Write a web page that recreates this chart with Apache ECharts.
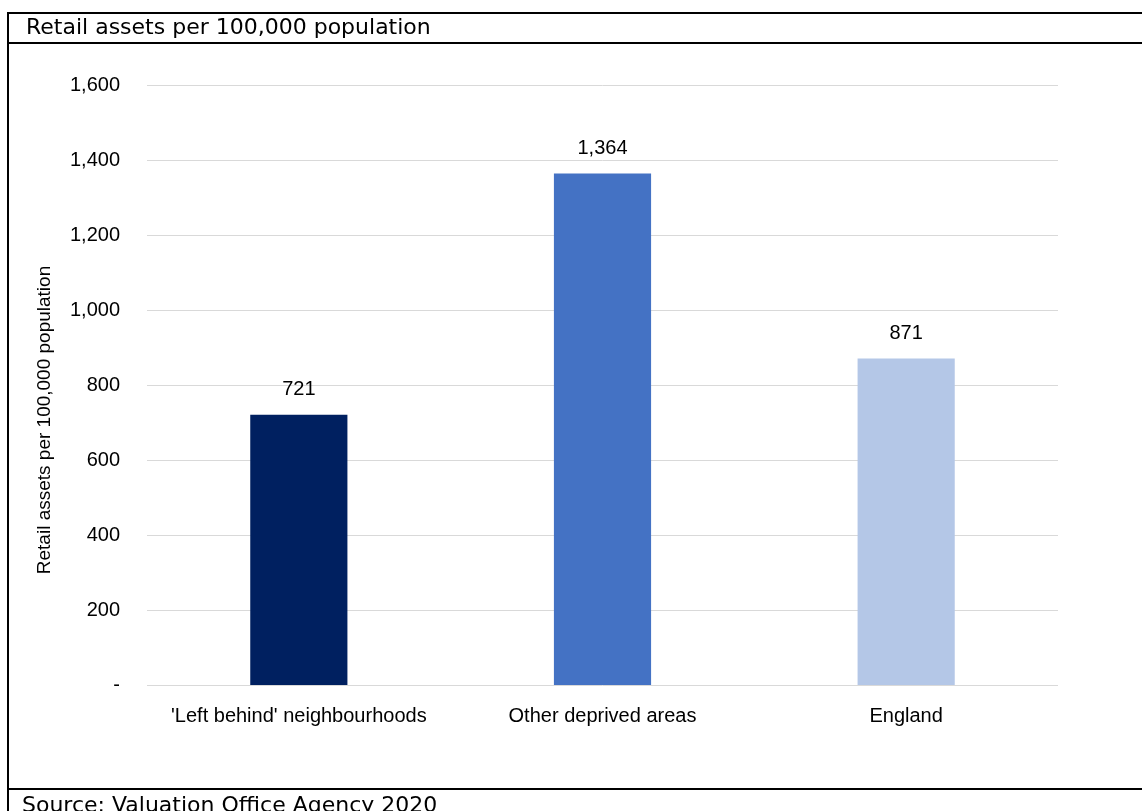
<!DOCTYPE html>
<html>
<head>
<meta charset="utf-8">
<script src="https://cdn.jsdelivr.net/npm/echarts@6/dist/echarts.min.js"></script>
<style>
html,body{margin:0;padding:0;background:#fff;}
#chart{width:1142px;height:811px;}
</style>
</head>
<body>
<div id="chart"></div>
<script>
const categories = ["'Left behind' neighbourhoods", "Other deprived areas", "England"];
const values = [721, 1364, 871];
const barColors = ['#002060', '#4472C4', '#B4C7E7'];
const yTicks = [0, 200, 400, 600, 800, 1000, 1200, 1400, 1600];
const titleText = 'Retail assets per 100,000 population';
const axisTitle = 'Retail assets per 100,000 population';
const sourceText = 'Source: Valuation Office Agency 2020';

function fmt(v) {
  if (v === 0) return '-';
  return String(v).replace(/\B(?=(\d{3})+(?!\d))/g, ',');
}

const chart = echarts.init(document.getElementById('chart'), null, {renderer: 'canvas'});
const labelFont = '"Liberation Sans", Arial, sans-serif';
chart.setOption({
  animation: false,
  backgroundColor: '#fff',
  grid: {left: 147, right: 84, top: 85, bottom: 126},
  xAxis: {
    type: 'category',
    data: categories,
    axisLine: {show: false},
    axisTick: {show: false},
    axisLabel: {color: '#000', fontSize: 20, fontFamily: labelFont, margin: 21, interval: 0}
  },
  yAxis: {
    type: 'value',
    min: yTicks[0],
    max: yTicks[yTicks.length - 1],
    interval: yTicks[1] - yTicks[0],
    axisLine: {show: false},
    axisTick: {show: false},
    splitLine: {lineStyle: {color: '#d9d9d9', width: 1}},
    axisLabel: {color: '#000', fontSize: 20, fontFamily: labelFont, margin: 27, formatter: fmt}
  },
  series: [{
    type: 'bar',
    barWidth: '32%',
    data: values.map((v, i) => ({value: v, itemStyle: {color: barColors[i]}})),
    label: {
      show: true,
      position: 'top',
      distance: 15,
      color: '#000',
      fontSize: 20,
      fontFamily: labelFont,
      formatter: p => fmt(p.value)
    }
  }],
  graphic: [
    {type: 'line', shape: {x1: 7, y1: 13, x2: 1142, y2: 13}, style: {stroke: '#000', lineWidth: 2}},
    {type: 'line', shape: {x1: 7, y1: 43, x2: 1142, y2: 43}, style: {stroke: '#000', lineWidth: 2}},
    {type: 'line', shape: {x1: 7, y1: 789, x2: 1142, y2: 789}, style: {stroke: '#000', lineWidth: 2}},
    {type: 'line', shape: {x1: 8, y1: 12, x2: 8, y2: 811}, style: {stroke: '#000', lineWidth: 2}},
    {type: 'text', left: 26, top: 17, style: {text: titleText, fill: '#000', font: '22px "DejaVu Sans", sans-serif'}},
    {type: 'text', left: 22, top: 795, style: {text: sourceText, fill: '#000', font: '22px "DejaVu Sans", sans-serif'}},
    {type: 'text', x: 45, y: 420, rotation: Math.PI / 2,
     style: {text: axisTitle, fill: '#000', font: '19px "Liberation Sans", Arial, sans-serif', align: 'center', verticalAlign: 'middle'}}
  ]
});
</script>
</body>
</html>
